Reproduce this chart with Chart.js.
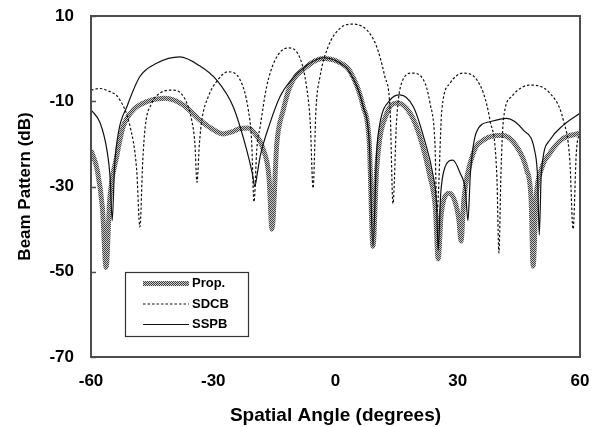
<!DOCTYPE html>
<html>
<head>
<meta charset="utf-8">
<script src="https://cdn.jsdelivr.net/npm/chart.js@4.4.1/dist/chart.umd.min.js"></script>
<style>
  html, body { margin: 0; padding: 0; background: #fff; }
  #wrap { width: 597px; height: 427px; }
</style>
</head>
<body>
<div id="wrap"><canvas id="chart" width="597" height="427"></canvas></div>
<script>
var seriesNames = ["Prop.", "SDCB", "SSPB"];
var xTicks = [-60, -30, 0, 30, 60];
var yTicks = [10, -10, -30, -50, -70];

var propAngles = [-60, -58.5, -57.2, -56.3, -55.4, -53.7, -52.1, -49.6, -46.3, -41.8, -37.3, -33.3, -29.2, -27.6, -25.5, -23.4, -21.5, -20.2, -17.7, -16.3, -15.6, -14.4, -12.8, -11.2, -7.1, -3, 0.5, 3.6, 6.8, 8.3, 9.2, 10.1, 12.6, 15.3, 18.3, 20.7, 23.2, 24.5, 25.2, 25.9, 26.6, 27.9, 29.3, 30.3, 30.8, 31.5, 33.8, 36.3, 40.9, 44.5, 46.9, 48, 48.5, 49.2, 50.5, 52.6, 55.9, 60];
var propDb = [-21.5, -26, -35, -49, -33, -23, -16, -12, -10.1, -9.3, -10.9, -14.4, -17.1, -17.7, -17.2, -16.4, -16.3, -17.1, -21.4, -28, -40, -19.9, -12, -6.6, -1.9, 0, -0.7, -3, -11.3, -20, -44, -26, -12.8, -10.4, -12.8, -18.3, -27.7, -35, -47, -37, -33, -31.6, -33.5, -38, -42.8, -33, -22.2, -19.1, -18, -20.7, -26.1, -33, -48.7, -33, -26, -22.2, -18.7, -17.5];

var sdcbAngles = [-60, -58, -56.2, -52.9, -50.4, -48.8, -48, -47.3, -46.7, -45.1, -43.1, -40.1, -37.3, -35.3, -34.5, -34, -33.4, -32.8, -31.2, -29.2, -26.4, -23.4, -21.4, -20.6, -20, -19.3, -18.5, -16.9, -14.8, -11.7, -8.7, -7.1, -6.2, -5.5, -4.8, -3.8, -1.8, 1.1, 4, 7.7, 10.1, 12.1, 13.4, 14.1, 15, 16.2, 18.8, 21.6, 23.2, 24.4, 24.9, 26.1, 28.1, 31.3, 34.7, 37.9, 39.6, 40.1, 40.6, 41.2, 43.2, 47.7, 52.6, 55.9, 57.5, 58.3, 59.1, 60];
var sdcbDb = [-7.4, -7, -7.4, -9.7, -16, -26, -39.5, -24, -16, -10.5, -8.1, -7.4, -8.9, -14.4, -20, -29, -20, -14.4, -8.9, -5.4, -3.1, -5, -12, -19, -33.6, -21, -16, -6.6, -0.3, 2.5, 0.1, -6.6, -15, -30.4, -12, -4.2, 2.8, 7.1, 8.1, 6.7, 2.8, -4.2, -12, -34, -14.4, -5.8, -3.4, -5, -10.5, -19.9, -36, -12, -5.8, -3.4, -5, -14.4, -27.7, -45.6, -27, -14.4, -8.9, -6.2, -8.1, -14.4, -23.8, -40, -22, -17];

var sspbAngles = [-60, -57.8, -56.1, -55.3, -54.8, -54.2, -53.2, -51.2, -48, -43.9, -38.2, -33.5, -29.2, -25.1, -21.8, -20.4, -19.8, -19.2, -18.5, -16.1, -13.6, -11.2, -7.1, -3, 0.5, 3.6, 6.8, 8.3, 9.2, 10.1, 10.9, 13.4, 15.8, 19.1, 21.6, 24, 24.8, 25.2, 25.8, 26.9, 28.8, 30.6, 31.9, 32.5, 33.1, 34.6, 37.9, 42, 46.1, 49, 49.6, 50, 50.5, 52.6, 55.9, 60];
var sspbDb = [-12, -15, -21.4, -28, -38, -25, -17, -11.3, -4.2, -1.1, 0.4, -1.6, -5, -11.3, -21.4, -27, -30, -27, -23, -15.2, -8.9, -5.4, -1.6, 0.2, -0.7, -3.4, -11.3, -20, -44, -22, -15.2, -9.7, -8.5, -11.3, -18.3, -27.7, -34, -45, -32, -25.4, -23.8, -26.9, -31, -38, -27, -17.2, -14.8, -14, -16.8, -22.2, -28, -41.4, -27, -19.1, -15.6, -12.8];

function toPoints(xs, ys) {
  return xs.map(function (x, i) { return { x: x, y: ys[i] }; });
}

// checkered grey stroke like the printed thick line
function makeDither() {
  var c = document.createElement("canvas");
  c.width = 2; c.height = 2;
  var g = c.getContext("2d");
  g.fillStyle = "#c8c8c8"; g.fillRect(0, 0, 2, 2);
  g.fillStyle = "#444"; g.fillRect(0, 0, 1, 1); g.fillRect(1, 1, 1, 1);
  return g.createPattern(c, "repeat");
}

var framePlugin = {
  id: "frame",
  afterDatasetsDraw: function (chart) {
    var ctx = chart.ctx, a = chart.chartArea, ys = chart.scales.y;
    ctx.save();
    ctx.strokeStyle = "#4d4d4d";
    ctx.lineWidth = 2;
    ctx.strokeRect(a.left, a.top, a.right - a.left, a.bottom - a.top);
    ctx.lineWidth = 1.5;
    yTicks.forEach(function (v) {
      var y = Math.round(ys.getPixelForValue(v)) + 0.5;
      ctx.beginPath(); ctx.moveTo(a.left, y); ctx.lineTo(a.left + 5, y); ctx.stroke();
    });

    // legend box in the lower left of the plot
    var bx = 125, by = 272, bw = 123, bh = 64;
    ctx.fillStyle = "#fff";
    ctx.fillRect(bx, by, bw, bh);
    ctx.strokeStyle = "#333";
    ctx.lineWidth = 1.2;
    ctx.strokeRect(bx + 0.5, by + 0.5, bw, bh);
    ctx.font = "bold 13px 'Liberation Sans', Arial, sans-serif";
    ctx.textBaseline = "middle";
    ctx.fillStyle = "#000";
    chart.data.datasets.forEach(function (ds, i) {
      var y = by + 11.5 + i * 20.5;
      ctx.save();
      ctx.strokeStyle = ds.borderColor;
      ctx.lineWidth = ds.borderWidth;
      ctx.setLineDash(ds.borderDash || []);
      ctx.beginPath(); ctx.moveTo(143, y); ctx.lineTo(189, y); ctx.stroke();
      ctx.restore();
      ctx.fillText(ds.label, 192, y);
    });
    ctx.restore();
  }
};

var dither = makeDither();

new Chart(document.getElementById("chart"), {
  type: "line",
  data: {
    datasets: [
      {
        label: seriesNames[0],
        data: toPoints(propAngles, propDb),
        borderColor: dither,
        borderWidth: 5,
        pointRadius: 0,
        cubicInterpolationMode: "monotone",
        order: 3
      },
      {
        label: seriesNames[1],
        data: toPoints(sdcbAngles, sdcbDb),
        borderColor: "#111",
        borderWidth: 1.2,
        borderDash: [2.5, 2],
        pointRadius: 0,
        cubicInterpolationMode: "monotone",
        order: 2
      },
      {
        label: seriesNames[2],
        data: toPoints(sspbAngles, sspbDb),
        borderColor: "#111",
        borderWidth: 1.2,
        pointRadius: 0,
        cubicInterpolationMode: "monotone",
        order: 1
      }
    ]
  },
  options: {
    responsive: false,
    animation: false,
    devicePixelRatio: 1,
    layout: { padding: { top: 16, right: 17, left: 0, bottom: 0 } },
    plugins: { legend: { display: false }, tooltip: { enabled: false } },
    scales: {
      x: {
        type: "linear",
        min: -60,
        max: 60,
        afterFit: function (s) { s.height = 70; s.paddingLeft = 0; s.paddingRight = 0; },
        afterBuildTicks: function (s) { s.ticks = xTicks.map(function (v) { return { value: v }; }); },
        grid: { display: false, drawTicks: false },
        border: { display: false },
        ticks: { color: "#000", padding: 14, font: { size: 17, weight: "bold", family: "'Liberation Sans', Arial" } },
        title: {
          display: true,
          text: "Spatial Angle (degrees)",
          color: "#000",
          padding: { top: 2, bottom: 0 },
          font: { size: 19, weight: "bold", family: "'Liberation Sans', Arial" }
        }
      },
      y: {
        min: -70,
        max: 10,
        afterFit: function (s) { s.width = 91; s.paddingTop = 0; s.paddingBottom = 0; },
        afterBuildTicks: function (s) { s.ticks = yTicks.map(function (v) { return { value: v }; }); },
        grid: { display: false, drawTicks: false },
        border: { display: false },
        ticks: { color: "#000", padding: 17, font: { size: 17, weight: "bold", family: "'Liberation Sans', Arial" } },
        title: {
          display: true,
          text: "Beam Pattern (dB)",
          color: "#000",
          padding: { top: 15, bottom: 0 },
          font: { size: 17, weight: "bold", family: "'Liberation Sans', Arial" }
        }
      }
    }
  },
  plugins: [framePlugin]
});
</script>
</body>
</html>
